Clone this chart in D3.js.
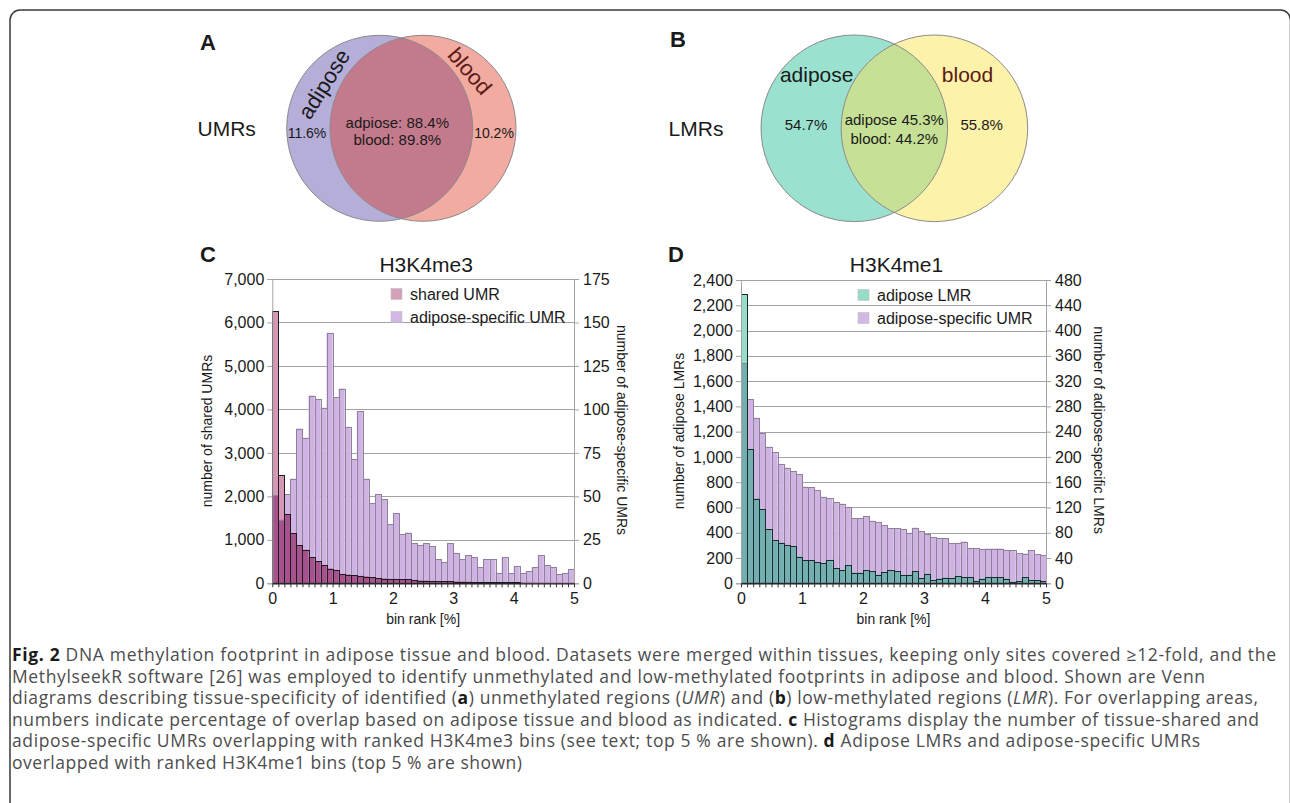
<!DOCTYPE html>
<html>
<head>
<meta charset="utf-8">
<script src="https://cdn.jsdelivr.net/npm/d3@7"></script>
<style>
  body { margin: 0; background: #fff; }
  svg text { font-family: "Liberation Sans", Arial, sans-serif; fill: #1a1a1a; }
  .cap text { font-family: "Open Sans", sans-serif; fill: #4d4d4d; }
</style>
</head>
<body>
<svg id="fig" width="1290" height="803"></svg>
<script>
// ---- Venn text ----
var vennASets = ["adipose", "blood"];
var vennAPct = ["11.6%", "10.2%"];
var vennAOverlap = ["adpiose: 88.4%", "blood: 89.8%"];
var vennBSets = ["adipose", "blood"];
var vennBPct = ["54.7%", "55.8%"];
var vennBOverlap = ["adipose 45.3%", "blood: 44.2%"];

// ---- histograms: 50 bins of 0.1 % bin rank ----
var binCount = 50;
var xTicks = [0, 1, 2, 3, 4, 5];

// C: H3K4me3
var sharedUMR = [6260, 2485, 1590, 1150, 877, 770, 600, 508, 415, 338,
  308, 215, 200, 185, 170, 155, 138, 123, 108, 100,
  100, 92, 92, 77, 62, 60, 55, 50, 48, 45,
  40, 38, 35, 30, 30, 28, 25, 25, 22, 20,
  20, 18, 18, 15, 15, 15, 12, 12, 10, 10];
var adiposeUMR_C = [50.7, 36.5, 51.3, 60.2, 89, 83.7, 108, 106, 101, 144,
  107, 112, 90, 71.5, 99, 60.2, 46, 51.3, 48.3, 34,
  40.4, 28.3, 29.2, 23, 22, 23.1, 21.2, 14, 12.3, 23.1,
  17.5, 14, 16, 15, 9.2, 14, 14, 6, 15, 6,
  10, 6, 6.9, 9.2, 16, 10.4, 9.2, 5.2, 6, 8.1];
var cTicksLeft = [0, 1000, 2000, 3000, 4000, 5000, 6000, 7000];
var cTicksRight = [0, 25, 50, 75, 100, 125, 150, 175];

// D: H3K4me1
var adiposeLMR = [2290, 1063, 671, 584, 426, 342, 321, 303, 295, 211,
  184, 182, 168, 160, 182, 121, 105, 145, 84, 84,
  103, 95, 68, 89, 105, 97, 63, 68, 97, 42,
  76, 26, 37, 45, 39, 58, 50, 47, 18, 37,
  47, 50, 50, 37, 11, 18, 50, 26, 26, 18];
var adiposeUMR_D = [348, 291, 262, 238, 216, 208, 189, 183, 177, 173,
  153, 152, 147, 137, 135, 128, 126, 121, 103, 103,
  106, 99, 97, 92, 87, 87, 86, 80, 88, 82,
  78, 73, 71, 71, 63, 64, 66, 56, 56, 54,
  55, 55, 55, 53, 52, 48, 47, 52, 46, 44];
var dTicksLeft = [0, 200, 400, 600, 800, 1000, 1200, 1400, 1600, 1800, 2000, 2200, 2400];
var dTicksRight = [0, 40, 80, 120, 160, 200, 240, 280, 320, 360, 400, 440, 480];

var captionLines = [
  [["b", "Fig. 2"], ["", " DNA methylation footprint in adipose tissue and blood. Datasets were merged within tissues, keeping only sites covered \u226512-fold, and the"]],
  [["", "MethylseekR software [26] was employed to identify unmethylated and low-methylated footprints in adipose and blood. Shown are Venn"]],
  [["", "diagrams describing tissue-specificity of identified ("], ["b", "a"], ["", ") unmethylated regions ("], ["i", "UMR"], ["", ") and ("], ["b", "b"], ["", ") low-methylated regions ("], ["i", "LMR"], ["", "). For overlapping areas,"]],
  [["", "numbers indicate percentage of overlap based on adipose tissue and blood as indicated. "], ["b", "c"], ["", " Histograms display the number of tissue-shared and"]],
  [["", "adipose-specific UMRs overlapping with ranked H3K4me3 bins (see text; top 5 % are shown). "], ["b", "d"], ["", " Adipose LMRs and adipose-specific UMRs"]],
  [["", "overlapped with ranked H3K4me1 bins (top 5 % are shown)"]]
];
var captionWidths = [1264, 1193, 1246, 1247, 1188, 510];

var svg = d3.select("#fig");

// frame
svg.append("rect")
  .attr("x", 10).attr("y", 10).attr("width", 1280.5).attr("height", 830)
  .attr("rx", 10)
  .attr("fill", "none").attr("stroke", "#3a3a3a").attr("stroke-width", 1.5);

// panel letters
svg.selectAll(".letter")
  .data([["A", 200, 50], ["B", 670, 47], ["C", 200, 262], ["D", 668, 262]])
  .join("text")
  .attr("class", "letter")
  .attr("x", function(d) { return d[1]; })
  .attr("y", function(d) { return d[2]; })
  .style("font-size", "22px").style("font-weight", "bold")
  .text(function(d) { return d[0]; });

function venn(cfg) {
  var g = svg.append("g");
  var id = "clip" + cfg.key;
  g.append("clipPath").attr("id", id)
    .append("circle").attr("cx", cfg.cx[0]).attr("cy", cfg.cy).attr("r", cfg.r);

  g.selectAll(".set")
    .data(cfg.sets)
    .join("circle")
    .attr("class", "set")
    .attr("cx", function(d, i) { return cfg.cx[i]; })
    .attr("cy", cfg.cy)
    .attr("r", cfg.r)
    .attr("fill", function(d, i) { return cfg.fills[i]; });

  g.append("circle")
    .attr("cx", cfg.cx[1]).attr("cy", cfg.cy).attr("r", cfg.r)
    .attr("clip-path", "url(#" + id + ")")
    .attr("fill", cfg.fills[2]);

  g.selectAll(".edge")
    .data(cfg.sets)
    .join("circle")
    .attr("class", "edge")
    .attr("cx", function(d, i) { return cfg.cx[i]; })
    .attr("cy", cfg.cy)
    .attr("r", cfg.r)
    .attr("fill", "none")
    .attr("stroke", "#8a8a8a")
    .attr("stroke-width", 1);

  // set names
  g.selectAll(".name")
    .data(cfg.sets)
    .join("text")
    .attr("class", "name")
    .attr("transform", function(d, i) {
      var p = cfg.namePos[i];
      return "translate(" + p[0] + "," + p[1] + ") rotate(" + p[2] + ")";
    })
    .attr("text-anchor", "middle")
    .attr("dy", "0.35em")
    .style("font-size", cfg.nameSize + "px")
    .style("fill", function(d, i) { return i ? "#5c1a16" : "#1a1a1a"; })
    .text(function(d) { return d; });

  g.selectAll(".pct")
    .data(cfg.pct)
    .join("text")
    .attr("class", "pct")
    .attr("x", function(d, i) { return cfg.pctX[i]; })
    .attr("y", cfg.pctY)
    .attr("dy", "0.35em")
    .attr("text-anchor", "middle")
    .style("font-size", cfg.pctSize + "px")
    .text(function(d) { return d; });

  g.selectAll(".ov")
    .data(cfg.overlap)
    .join("text")
    .attr("class", "ov")
    .attr("x", cfg.ovX)
    .attr("y", function(d, i) { return cfg.ovY[i]; })
    .attr("dy", "0.35em")
    .attr("text-anchor", "middle")
    .style("font-size", "15px")
    .text(function(d) { return d; });

  g.append("text")
    .attr("x", cfg.rowX).attr("y", cfg.cy)
    .attr("dy", "0.35em")
    .attr("text-anchor", "middle")
    .style("font-size", "21px")
    .text(cfg.row);
}

venn({
  key: "A", sets: vennASets, cx: [379.7, 423], cy: 128.3, r: 93,
  fills: ["#b4aed8", "#f1aba1", "#c47a8d"],
  namePos: [[324, 84, -58], [470, 71, 49]], nameSize: 22,
  pct: vennAPct, pctX: [307, 494], pctY: 133.3, pctSize: 14,
  overlap: vennAOverlap, ovX: 397.3, ovY: [122.7, 139.3],
  row: "UMRs", rowX: 226.7
});

venn({
  key: "B", sets: vennBSets, cx: [854.3, 934.4], cy: 128.3, r: 93.3,
  fills: ["#9ae2cf", "#fdf2aa", "#c6e196"],
  namePos: [[816.7, 75, 0], [967.5, 75, 0]], nameSize: 21,
  pct: vennBPct, pctX: [806, 981.7], pctY: 125, pctSize: 15,
  overlap: vennBOverlap, ovX: 894.3, ovY: [120, 138.3],
  row: "LMRs", rowX: 696
});

function histo(cfg) {
  var g = svg.append("g");
  var x = d3.scaleLinear().domain([0, 5]).range([cfg.left, cfg.right]);
  var yL = d3.scaleLinear().domain([0, d3.max(cfg.ticksL)]).range([cfg.bottom, cfg.top]);
  var yR = d3.scaleLinear().domain([0, d3.max(cfg.ticksR)]).range([cfg.bottom, cfg.top]);
  var idx = d3.range(binCount);
  var x0 = function(i) { return x(i / 10); };
  var bw = function(i) { return x((i + 1) / 10) - x(i / 10); };

  // grid
  g.append("g").selectAll("line")
    .data(cfg.ticksL.slice(1))
    .join("line")
    .attr("x1", cfg.left).attr("x2", cfg.right)
    .attr("y1", function(d) { return Math.round(yL(d)) + 0.5; })
    .attr("y2", function(d) { return Math.round(yL(d)) + 0.5; })
    .attr("stroke", "#a3a3a3");

  // purple (right axis) bars
  g.append("g").selectAll("rect")
    .data(idx)
    .join("rect")
    .attr("x", x0).attr("width", bw)
    .attr("y", function(i) { return yR(cfg.right_[i]); })
    .attr("height", function(i) { return cfg.bottom - yR(cfg.right_[i]); })
    .attr("fill", "#cfb3e3");

  // left-axis bars
  g.append("g").selectAll("rect")
    .data(idx)
    .join("rect")
    .attr("x", x0).attr("width", bw)
    .attr("y", function(i) { return yL(cfg.left_[i]); })
    .attr("height", function(i) { return cfg.bottom - yL(cfg.left_[i]); })
    .attr("fill", cfg.light);

  // overlap of both series
  g.append("g").selectAll("rect")
    .data(idx)
    .join("rect")
    .attr("x", x0).attr("width", bw)
    .attr("y", function(i) { return Math.max(yL(cfg.left_[i]), yR(cfg.right_[i])); })
    .attr("height", function(i) { return cfg.bottom - Math.max(yL(cfg.left_[i]), yR(cfg.right_[i])); })
    .attr("fill", cfg.dark);

  // outlines
  g.append("g").selectAll("rect")
    .data(idx)
    .join("rect")
    .attr("x", function(i) { return Math.round(x0(i)) + 0.5; })
    .attr("width", function(i) { return Math.round(x0(i + 1)) - Math.round(x0(i)); })
    .attr("y", function(i) { return Math.round(yR(cfg.right_[i])) + 0.5; })
    .attr("height", function(i) { return cfg.bottom - Math.round(yR(cfg.right_[i])) - 0.5; })
    .attr("fill", "none").attr("stroke", "#8f8199").attr("stroke-width", 1);

  g.append("g").selectAll("rect")
    .data(idx)
    .join("rect")
    .attr("x", function(i) { return Math.round(x0(i)) + 0.5; })
    .attr("width", function(i) { return Math.round(x0(i + 1)) - Math.round(x0(i)); })
    .attr("y", function(i) { return Math.round(yL(cfg.left_[i])) + 0.5; })
    .attr("height", function(i) { return cfg.bottom - Math.round(yL(cfg.left_[i])) - 0.5; })
    .attr("fill", "none").attr("stroke", cfg.edge).attr("stroke-width", 1);

  // axes
  var axL = g.append("g")
    .attr("transform", "translate(" + cfg.left + ",0)")
    .call(d3.axisLeft(yL).tickValues(cfg.ticksL).tickFormat(d3.format(",")).tickSize(5).tickPadding(3));
  var axR = g.append("g")
    .attr("transform", "translate(" + cfg.right + ",0)")
    .call(d3.axisRight(yR).tickValues(cfg.ticksR).tickSize(5).tickPadding(4));
  [axL, axR].forEach(function(a) {
    a.select(".domain").attr("stroke", "#a3a3a3");
    a.selectAll(".tick line").attr("stroke", "#a3a3a3");
    a.selectAll("text").style("font-size", "16px").style("font-family", null).attr("fill", "#1a1a1a");
  });

  var axB = g.append("g")
    .attr("transform", "translate(0," + cfg.bottom + ")")
    .call(d3.axisBottom(x).tickValues(d3.range(binCount + 1).map(function(i) { return i / 10; }))
      .tickFormat("").tickSizeInner(4).tickSizeOuter(0));
  axB.select(".domain").attr("stroke", "#222").attr("stroke-width", 1.3);
  axB.selectAll(".tick line").attr("stroke", "#333");

  var axL2 = g.append("g")
    .attr("transform", "translate(0," + cfg.bottom + ")")
    .call(d3.axisBottom(x).tickValues(xTicks).tickFormat(d3.format("d")).tickSize(0).tickPadding(9));
  axL2.select(".domain").remove();
  axL2.selectAll("text").style("font-size", "16px").style("font-family", null).attr("fill", "#1a1a1a");

  // titles
  g.append("text")
    .attr("x", (cfg.left + cfg.right) / 2 + 3).attr("y", 272)
    .attr("text-anchor", "middle")
    .style("font-size", "21px")
    .text(cfg.title);

  g.append("text")
    .attr("x", (cfg.left + cfg.right) / 2).attr("y", 624)
    .attr("text-anchor", "middle")
    .style("font-size", "14px")
    .text("bin rank [%]");

  g.append("text")
    .attr("transform", "translate(" + cfg.titleL[0] + ",431) rotate(-90)")
    .attr("text-anchor", "middle")
    .style("font-size", "14px")
    .text(cfg.titleL[1]);

  g.append("text")
    .attr("transform", "translate(" + cfg.titleR[0] + ",430) rotate(90)")
    .attr("text-anchor", "middle")
    .style("font-size", "14px")
    .text(cfg.titleR[1]);

  // legend
  var lg = g.append("g");
  lg.selectAll("rect")
    .data(cfg.legend)
    .join("rect")
    .attr("x", cfg.legX).attr("y", function(d, i) { return cfg.legY + i * 23 - 11; })
    .attr("width", 11).attr("height", 11)
    .attr("fill", function(d) { return d[1]; })
    .attr("stroke", "#bbb").attr("stroke-width", 0.5);
  lg.selectAll("text")
    .data(cfg.legend)
    .join("text")
    .attr("x", cfg.legX + 19).attr("y", function(d, i) { return cfg.legY + i * 23; })
    .style("font-size", "16px")
    .text(function(d) { return d[0]; });
}

histo({
  left: 272.3, right: 574, top: 279, bottom: 583.3,
  left_: sharedUMR, right_: adiposeUMR_C,
  ticksL: cTicksLeft, ticksR: cTicksRight,
  light: "#d597b4", dark: "#a5528d", edge: "#1f1a1f",
  title: "H3K4me3",
  titleL: [212, "number of shared UMRs"],
  titleR: [617, "number of adipose-specific UMRs"],
  legend: [["shared UMR", "#d4a0bb"], ["adipose-specific UMR", "#d2b8e4"]],
  legX: 391, legY: 299.5
});

histo({
  left: 741, right: 1046, top: 280, bottom: 583.3,
  left_: adiposeLMR, right_: adiposeUMR_D,
  ticksL: dTicksLeft, ticksR: dTicksRight,
  light: "#96dcc8", dark: "#73aeb0", edge: "#1a2b2b",
  title: "H3K4me1",
  titleL: [684, "number of adipose LMRs"],
  titleR: [1094, "number of adipose-specific LMRs"],
  legend: [["adipose LMR", "#96dcc8"], ["adipose-specific UMR", "#d2b8e4"]],
  legX: 858, legY: 300.5
});

// caption
var cap = svg.append("g").attr("class", "cap");
captionLines.forEach(function(line, li) {
  var t = cap.append("text")
    .attr("x", 12)
    .attr("y", 661 + li * 21.6)
    .attr("textLength", captionWidths[li])
    .attr("lengthAdjust", "spacing")
    .style("font-size", "17.5px");
  t.selectAll("tspan")
    .data(line)
    .join("tspan")
    .style("font-weight", function(d) { return d[0] === "b" ? "bold" : null; })
    .style("font-style", function(d) { return d[0] === "i" ? "italic" : null; })
    .style("fill", function(d) { return d[0] === "b" ? "#1a1a1a" : null; })
    .text(function(d) { return d[1]; });
});
</script>
</body>
</html>
